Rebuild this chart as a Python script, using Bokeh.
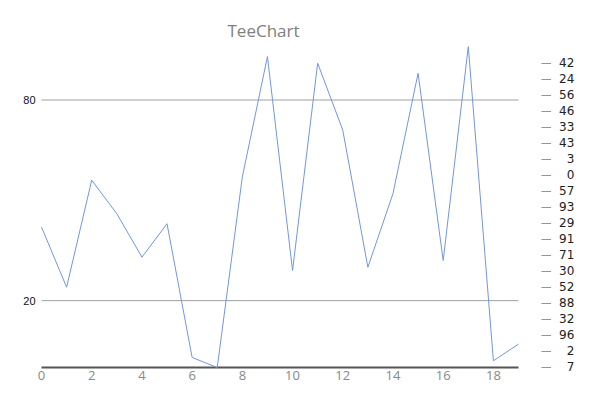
from bokeh.plotting import figure
from bokeh.models import Legend, LegendItem, Range1d, ColumnDataSource
from bokeh.core.properties import value
from bokeh.embed import file_html
from bokeh.resources import INLINE

# ---- data ----
x_index = [0, 1, 2, 3, 4, 5, 6, 7, 8, 9, 10, 11, 12, 13, 14, 15, 16, 17, 18, 19]
values = [42, 24, 56, 46, 33, 43, 3, 0, 57, 93, 29, 91, 71, 30, 52, 88, 32, 96, 2, 7]
left_ticks = [20, 80]
bottom_ticks = [0, 2, 4, 6, 8, 10, 12, 14, 16, 18]
title_text = "TeeChart"

LINE_COLOR = "#7396dc"

# ---- geometry (pixels) ----
W, H = 600, 400
FL, FL_DATA, FR_DATA, FR, FT, FB_DATA, FB = 4, 41, 518, 596, 46, 367, 392
x_min, x_max = min(x_index), max(x_index)
y_min, y_max = min(values), max(values)
ppx = (FR_DATA - FL_DATA) / (x_max - x_min)
ppy = (FB_DATA - FT) / (y_max - y_min)
x_start = x_min - (FL_DATA - FL) / ppx
x_end = x_min + (FR - FL_DATA) / ppx
y_start = y_max - (FB - FT) / ppy

src = ColumnDataSource(data=dict(x=x_index, y=values))

p = figure(width=W, height=H, output_backend="svg", toolbar_location=None,
           x_range=Range1d(x_start, x_end), y_range=Range1d(y_start, y_max),
           min_border_left=FL, min_border_right=W - FR,
           min_border_top=FT, min_border_bottom=H - FB)

p.outline_line_color = None
p.background_fill_color = "white"
p.border_fill_color = "white"
p.axis.visible = False
p.grid.visible = False

p.title.text = title_text
p.title.align = "left"
p.title.offset = 227 - FL
p.title.text_font = "Open Sans"
p.title.text_font_size = "17px"
p.title.text_font_style = "normal"
p.title.text_color = "#808080"

# horizontal grid lines, limited to the data span
p.segment(x0=[x_min] * len(left_ticks), x1=[x_max] * len(left_ticks),
          y0=left_ticks, y1=left_ticks, line_color="#a0a0a0", line_width=1)

# bottom axis line
p.segment(x0=[x_min], x1=[x_max], y0=[y_min], y1=[y_min],
          line_color="#555555", line_width=2)

# data line
r = p.line("x", "y", source=src, line_color=LINE_COLOR, line_width=1)

# bottom tick labels
p.text(x=bottom_ticks, y=[y_min] * len(bottom_ticks),
       text=[str(t) for t in bottom_ticks],
       text_align="center", text_baseline="top", y_offset=3,
       text_font=value("Open Sans"), text_font_size="13px", text_color="#888888")

# left tick labels
p.text(x=[x_min] * len(left_ticks), y=left_ticks,
       text=[str(t) for t in left_ticks],
       text_align="right", text_baseline="middle", x_offset=-6,
       text_font=value("Liberation Sans"), text_font_size="11px", text_color="#111111")

# value legend
items = [LegendItem(label=f"{v:>2}".replace(" ", "\u2007"), renderers=[r]) for v in values]
legend = Legend(items=items, location=(541 - FL, FB - 375), orientation="vertical",
                glyph_width=10, glyph_height=16, label_height=16, spacing=0,
                label_standoff=8, padding=0, margin=0,
                border_line_color=None, background_fill_alpha=0,
                label_text_font="DejaVu Sans", label_text_font_size="12px",
                label_text_color="#222222")
p.add_layout(legend, "center")

open("out.html", "w").write(file_html(p, INLINE))
